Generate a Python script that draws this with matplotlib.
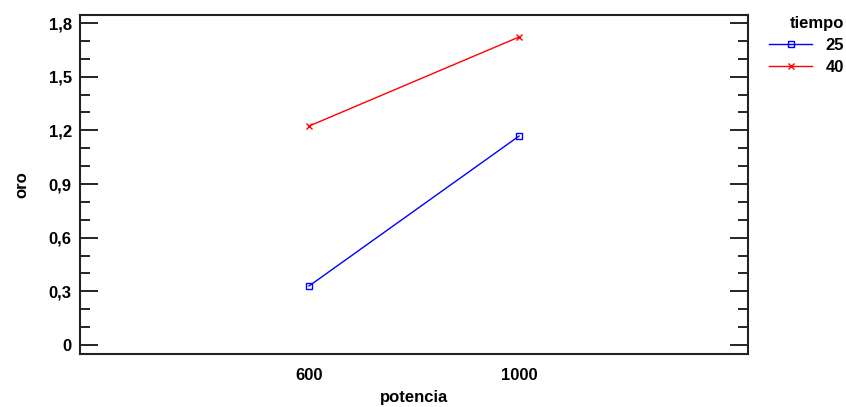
import matplotlib
matplotlib.use("Agg")
import matplotlib.pyplot as plt
from matplotlib.ticker import MultipleLocator, FixedLocator

plt.rcParams['font.family'] = ['Liberation Sans', 'DejaVu Sans']

potencia = ["600", "1000"]
tiempo = ["25", "40"]
oro_25 = [0.33, 1.168]
oro_40 = [1.224, 1.722]
y_ticks = [0, 0.3, 0.6, 0.9, 1.2, 1.5, 1.8]
y_tick_labels = ["0", "0,3", "0,6", "0,9", "1,2", "1,5", "1,8"]

fs = 12

fig = plt.figure(figsize=(8.46, 4.07), dpi=100)
ax = fig.add_axes([80/846, 1 - 354/407, (748-80)/846, (354-15)/407])

xpos = list(range(len(potencia)))
ax.plot(xpos, oro_25, color='#0000ff', lw=1, marker='s', ms=4.5,
        mfc='none', mec='#0000ff', mew=1, label=tiempo[0])
ax.plot(xpos, oro_40, color='#ff0000', lw=1, marker='x', ms=5,
        mec='#ff0000', mew=1, label=tiempo[1])

ax.set_xlim(-1.0905, 2.0905)
ax.set_ylim(-0.05, 1.845)
ax.set_xticks(xpos)
ax.set_xticklabels(potencia)
ax.yaxis.set_major_locator(FixedLocator(y_ticks))
ax.set_yticklabels(y_tick_labels)
ax.yaxis.set_minor_locator(MultipleLocator(0.1))

ax.tick_params(axis='x', length=0, pad=10, labelsize=fs)
ax.tick_params(axis='y', which='major', direction='in', length=13, width=1.2,
               left=True, right=True, labelsize=fs, pad=6)
ax.tick_params(axis='y', which='minor', direction='in', length=7, width=1.2,
               left=True, right=True)
for lab in ax.get_xticklabels() + ax.get_yticklabels():
    lab.set_fontweight('bold')

for sp in ax.spines.values():
    sp.set_linewidth(1.5)
    sp.set_color('#222222')

ax.set_xlabel("potencia", fontsize=fs, fontweight='bold', labelpad=5)
ax.set_ylabel("oro", fontsize=fs, fontweight='bold', labelpad=14)

leg = fig.legend(loc='upper right', bbox_to_anchor=(844/846, 1 - 16/407),
                 frameon=False, title="tiempo", fontsize=fs,
                 handlelength=2.6, handletextpad=0.8, labelspacing=0.4,
                 borderaxespad=0, borderpad=0)
leg.get_title().set_fontweight('bold')
leg.get_title().set_fontsize(fs)
leg._legend_box.align = "right"
leg._legend_box.sep = 5
for t in leg.get_texts():
    t.set_fontweight('bold')

fig.savefig("out.png", dpi=100)
